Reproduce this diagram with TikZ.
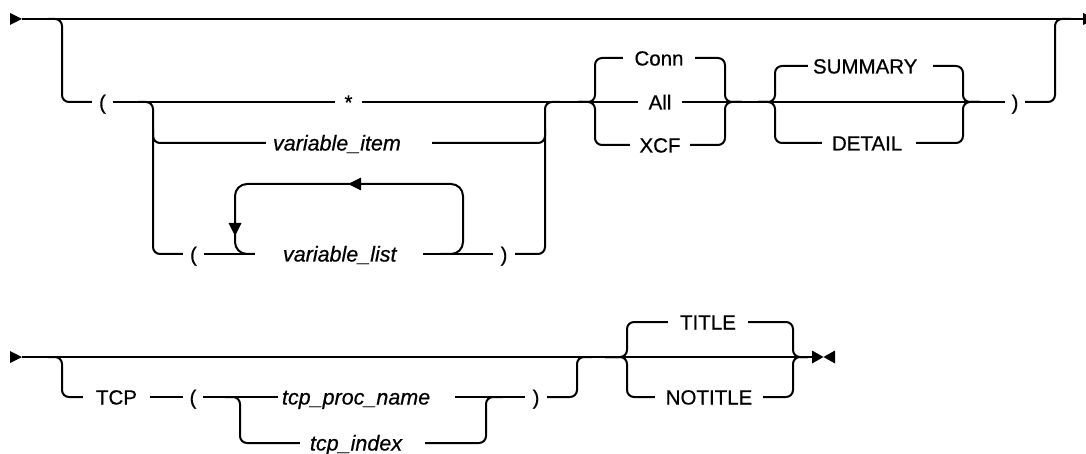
\documentclass[tikz,border=0pt]{standalone}
\usepackage{fontspec}
\setmainfont{Liberation Sans}[FakeBold=0.6]
\begin{document}
\begin{tikzpicture}[x=1pt,y=-1pt,
  rail/.style={line width=2pt, rounded corners=7pt},
  loopline/.style={line width=2pt, rounded corners=12pt},
  lab/.style={inner xsep=0pt, inner ysep=0pt, text height=15pt, text depth=0pt, align=center, font=\fontsize{20.5}{24}\selectfont},
  var/.style={lab, align=left, font=\fontsize{21.5}{25}\selectfont\itshape},
  kw/.style={lab, align=left}]
\useasboundingbox (0,0) rectangle (1086,454);

% ---------------- line 1
\coordinate (s1) at (22,19);
\coordinate (e1) at (1083,19);
\fill (10,13) -- (s1) -- (10,25) -- cycle;
\draw[rail] (s1) -- (e1);
\fill (1083,13) -- (1086,14.5) -- (1086,23.5) -- (1083,25) -- cycle;

\node[lab, text width=21pt] (lp1) at (102.5,102) {(};
\draw[rail] (48,19) -- (62,19) -- (62,102) -- (lp1.west);

\node[lab, text width=27pt] (star) at (348.5,102) {*};
\node[var, text width=166pt] (vi) at (349,143) {\hspace*{7pt}variable\_item};
\node[lab, text width=21pt] (lp2) at (193.5,254) {(};
\node[var, text width=168pt] (vl) at (339,254) {\hspace*{28pt}variable\_list};
\node[lab, text width=22pt] (rp3) at (504,254) {)};

\draw[rail] (lp1.east) -- (star.west);
\draw[rail] (138,102) -- (153,102) -- (153,254) -- (lp2.west);
\draw[rail] (153,130) -- (153,143) -- (vi.west);
\draw[rail] (lp2.east) -- (vl.west);
\draw[rail] (vl.east) -- (rp3.west);
\draw[rail] (rp3.east) -- (545,254) -- (545,102) -- (560,102);
\draw[rail] (vi.east) -- (545,143) -- (545,130);
% repeat loop
\draw[loopline] (440,254) -- (463,254) -- (463,184) -- (235,184) -- (235,254) -- (vl.west);
\fill (348,184) -- (361,177.5) -- (361,190.5) -- cycle;
\fill (235,236) -- (228.5,223) -- (241.5,223) -- cycle;

% Conn / All / XCF
\node[lab, text width=44pt] (all) at (660,102) {All};
\node[lab, text width=72pt] (conn) at (659,58) {Conn};
\node[lab, text width=60pt] (xcf) at (660,145) {XCF};
\draw[rail] (star.east) -- (all.west);
\draw[rail] (578,102) -- (595,102) -- (595,58) -- (conn.west);
\draw[rail] (578,102) -- (595,102) -- (595,145) -- (xcf.west);
\draw[rail] (conn.east) -- (725,58) -- (725,102) -- (742,102);
\draw[rail] (xcf.east) -- (725,145) -- (725,102) -- (742,102);

% SUMMARY / DETAIL
\node[kw, text width=125pt] (summ) at (870.5,66) {\hspace*{5pt}SUMMARY};
\node[kw, text width=94pt] (det) at (869,143) {\hspace*{10pt}DETAIL};
\node[lab, text width=20pt] (rp1) at (1015,102) {)};
\draw[rail] (all.east) -- (rp1.west);
\draw[rail] (758,102) -- (775,102) -- (775,66) -- (summ.west);
\draw[rail] (758,102) -- (775,102) -- (775,143) -- (det.west);
\draw[rail] (summ.east) -- (963,66) -- (963,102) -- (980,102);
\draw[rail] (det.east) -- (963,143) -- (963,102) -- (980,102);
\draw[rail] (rp1.east) -- (1055,102) -- (1055,19) -- (1070,19);

% ---------------- line 2
\coordinate (s2) at (22,357);
\coordinate (e2) at (812,357);
\fill (10,351) -- (s2) -- (10,363) -- cycle;
\draw[rail] (s2) -- (e2);

\node[lab, text width=67pt] (tcp) at (116.5,397) {TCP};
\node[lab, text width=20pt] (lp4) at (193,397) {(};
\node[var, text width=177pt] (tpn) at (366.5,397) {\hspace*{4pt}tcp\_proc\_name};
\node[var, text width=125pt] (tix) at (362.5,443) {\hspace*{10pt}tcp\_index};
\node[lab, text width=22pt] (rp2) at (536,397) {)};
\draw[rail] (48,357) -- (62,357) -- (62,397) -- (tcp.west);
\draw[rail] (tcp.east) -- (lp4.west);
\draw[rail] (lp4.east) -- (tpn.west);
\draw[rail] (225,397) -- (240,397) -- (240,443) -- (tix.west);
\draw[rail] (tpn.east) -- (rp2.west);
\draw[rail] (tix.east) -- (486,443) -- (486,397) -- (502,397);
\draw[rail] (rp2.east) -- (577,397) -- (577,357) -- (592,357);

% TITLE / NOTITLE
\node[lab, text width=80pt] (title) at (708,322) {TITLE};
\node[lab, text width=108pt] (notitle) at (709,397) {NOTITLE};
\draw[rail] (605,357) -- (627,357) -- (627,322) -- (title.west);
\draw[rail] (605,357) -- (627,357) -- (627,397) -- (notitle.west);
\draw[rail] (title.east) -- (793,322) -- (793,357) -- (808,357);
\draw[rail] (notitle.east) -- (793,397) -- (793,357) -- (808,357);
\fill (812,350.5) -- (823.5,357) -- (812,363.5) -- cycle;
\fill (835,350.5) -- (823.5,357) -- (835,363.5) -- cycle;
\end{tikzpicture}
\end{document}
